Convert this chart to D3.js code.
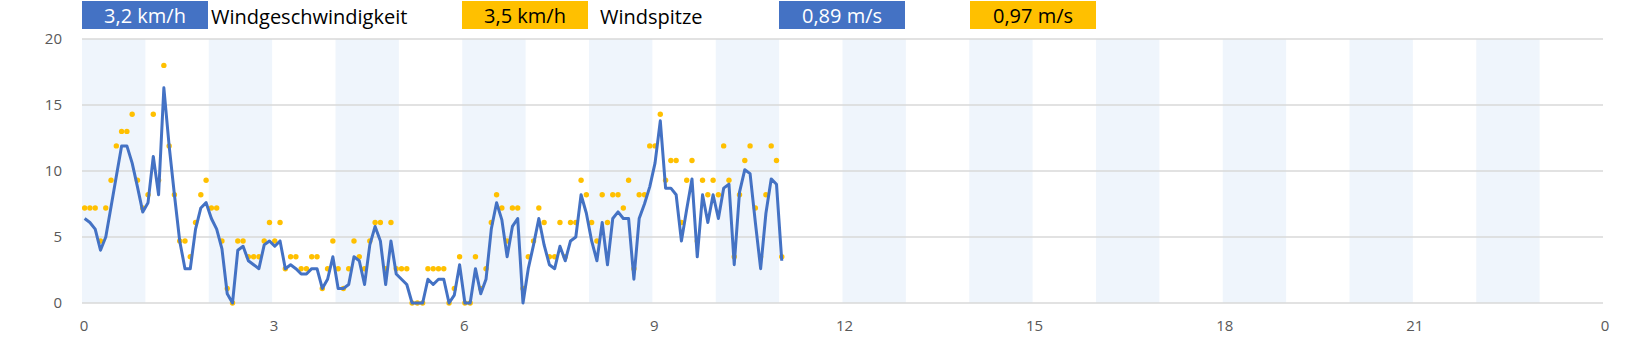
<html>
<head>
<script src="https://d3js.org/d3.v7.min.js"></script>
<style>
body { margin: 0; background: #fff; font-family: 'Open Sans', sans-serif; }
line.grid { stroke: #d9d9d9; stroke-width: 1.5; }
text.tick { fill: #595959; font-size: 15px; }
</style>
</head>
<body>
<div id="plot"></div>
<script>

// wind speed every 5 minutes (km/h), from 00:00
var speed = [6.4, 6.1, 5.6, 4.0, 5.0, 7.3, 9.6, 11.9, 11.9, 10.6, 8.8, 6.9,
  7.6, 11.1, 8.2, 16.3, 11.9, 8.2, 4.7, 2.6, 2.6, 5.6, 7.2, 7.6,
  6.4, 5.6, 4.1, 0.7, 0, 4.0, 4.3, 3.2, 2.9, 2.6, 4.4, 4.7,
  4.3, 4.7, 2.6, 2.9, 2.6, 2.2, 2.2, 2.6, 2.6, 1.1, 1.8, 3.5,
  1.1, 1.1, 1.4, 3.5, 3.2, 1.4, 4.4, 5.8, 4.7, 1.4, 4.7, 2.2,
  1.8, 1.4, 0, 0, 0, 1.8, 1.4, 1.8, 1.8, 0, 0.6, 2.9,
  0, 0, 2.6, 0.7, 1.8, 5.6, 7.6, 6.3, 3.5, 5.8, 6.4, 0,
  2.6, 4.4, 6.4, 4.4, 2.9, 2.6, 4.3, 3.2, 4.7, 5.0, 8.2, 6.8,
  4.7, 3.2, 6.1, 2.9, 6.4, 6.9, 6.4, 6.4, 1.8, 6.4, 7.5, 8.8,
  10.6, 13.8, 8.7, 8.7, 8.2, 4.7, 7.1, 9.4, 3.5, 8.2, 6.1, 8.2,
  6.4, 8.7, 9.0, 2.9, 8.4, 10.1, 9.8, 6.1, 2.6, 6.8, 9.4, 9.0, 3.2];

// gusts every 5 minutes (km/h)
var gust = [7.2, 7.2, 7.2, 4.7, 7.2, 9.3, 11.9, 13, 13, 14.3, 9.3, 7.2,
  8.2, 14.3, 9.3, 18, 11.9, 8.2, 4.7, 4.7, 3.5, 6.1, 8.2, 9.3,
  7.2, 7.2, 4.7, 1.1, 0, 4.7, 4.7, 3.5, 3.5, 3.5, 4.7, 6.1,
  4.7, 6.1, 2.6, 3.5, 3.5, 2.6, 2.6, 3.5, 3.5, 1.1, 2.6, 4.7,
  2.6, 1.1, 2.6, 4.7, 3.5, 2.6, 4.7, 6.1, 6.1, 2.6, 6.1, 2.6,
  2.6, 2.6, 0, 0, 0, 2.6, 2.6, 2.6, 2.6, 0, 1.1, 3.5,
  0, 0, 3.5, 1.1, 2.6, 6.1, 8.2, 7.2, 4.7, 7.2, 7.2, 1.1,
  3.5, 4.7, 7.2, 6.1, 3.5, 3.5, 6.1, 3.5, 6.1, 6.1, 9.3, 8.2,
  6.1, 4.7, 8.2, 6.1, 8.2, 8.2, 7.2, 9.3, 2.6, 8.2, 8.2, 11.9,
  11.9, 14.3, 9.3, 10.8, 10.8, 6.1, 9.3, 10.8, 4.7, 9.3, 8.2, 9.3,
  8.2, 11.9, 9.3, 3.5, 8.2, 10.8, 11.9, 7.2, 3.5, 8.2, 11.9, 10.8, 3.5];

var hourTicks = [0, 3, 6, 9, 12, 15, 18, 21, 24];
var hourLabels = ["0", "3", "6", "9", "12", "15", "18", "21", "0"];
var yTicks = [0, 5, 10, 15, 20];

// header boxes: value boxes and legend names
var boxes = [
  { text: "3,2 km/h", fill: "#4472c4", color: "#fff", x: 82 },
  { text: "3,5 km/h", fill: "#ffc000", color: "#000", x: 462 },
  { text: "0,89 m/s", fill: "#4472c4", color: "#fff", x: 779 },
  { text: "0,97 m/s", fill: "#ffc000", color: "#000", x: 970 }
];
var names = [{ text: "Windgeschwindigkeit", x: 211 }, { text: "Windspitze", x: 600 }];

var width = 1645, height = 341;
var svg = d3.select("#plot").append("svg")
  .attr("width", width).attr("height", height);

var perHour = 12; // 5 minute steps
var xScale = d3.scaleLinear().domain([0, 24 * perHour]).range([82, 1603]);
var yScale = d3.scaleLinear().domain([0, 20]).range([303, 39]);

// light bands on every other hour
var bandHours = d3.range(0, 24, 2);
svg.selectAll("rect.band").data(bandHours).enter().append("rect")
  .attr("class", "band")
  .attr("x", function(h) { return xScale(h * perHour); })
  .attr("width", function(h) { return xScale((h + 1) * perHour) - xScale(h * perHour); })
  .attr("y", yScale(20))
  .attr("height", yScale(0) - yScale(20))
  .style("fill", "#eff5fc");

svg.selectAll("line.grid").data(yTicks).enter().append("line")
  .attr("class", "grid")
  .attr("x1", xScale.range()[0]).attr("x2", xScale.range()[1])
  .attr("y1", function(d) { return yScale(d); })
  .attr("y2", function(d) { return yScale(d); });

svg.selectAll("text.ytick").data(yTicks).enter().append("text")
  .attr("class", "tick")
  .attr("x", 62)
  .attr("y", function(d) { return yScale(d) + 5; })
  .attr("text-anchor", "end")
  .text(function(d) { return d; });

svg.selectAll("text.xtick").data(hourTicks).enter().append("text")
  .attr("class", "tick")
  .attr("x", function(h) { return xScale(h * perHour) + 2; })
  .attr("y", 331)
  .attr("text-anchor", "middle")
  .text(function(h, i) { return hourLabels[i]; });

// points sit in the middle of their 5 minute slot
var px = function(d, i) { return xScale(i + 0.5); };

svg.selectAll("circle.gust").data(gust).enter().append("circle")
  .attr("class", "gust")
  .attr("cx", px)
  .attr("cy", function(d) { return yScale(d); })
  .attr("r", 2.7)
  .style("fill", "#ffc000");

var line = d3.line().x(px).y(function(d) { return yScale(d); });
svg.append("path").datum(speed)
  .attr("d", line)
  .style("fill", "none")
  .style("stroke", "#4472c4")
  .style("stroke-width", 3)
  .style("stroke-linejoin", "round");

// header
var box = svg.selectAll("g.box").data(boxes).enter().append("g")
  .attr("class", "box")
  .attr("transform", function(d) { return "translate(" + d.x + ",1)"; });
box.append("rect")
  .attr("width", 126).attr("height", 28)
  .style("fill", function(d) { return d.fill; });
box.append("text")
  .attr("x", 63).attr("y", 21.5)
  .attr("text-anchor", "middle")
  .style("font-size", "20px")
  .style("fill", function(d) { return d.color; })
  .text(function(d) { return d.text; });

svg.selectAll("text.name").data(names).enter().append("text")
  .attr("class", "name")
  .attr("x", function(d) { return d.x; })
  .attr("y", 24)
  .style("font-size", "20px")
  .style("fill", "#000")
  .text(function(d) { return d.text; });

</script>
</body>
</html>
